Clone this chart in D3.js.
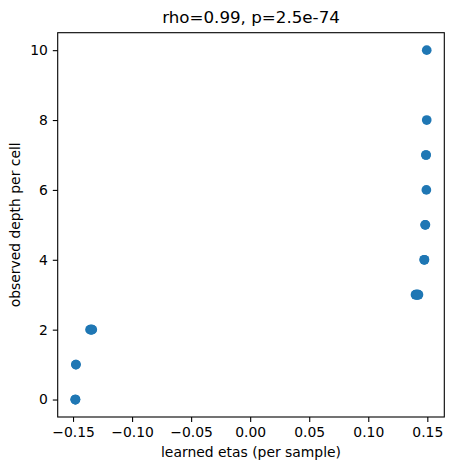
<!DOCTYPE html>
<html>
<head>
<meta charset="utf-8">
<script src="https://cdn.jsdelivr.net/npm/d3@7"></script>
<style>
	body { margin: 0; background: #fff; }
	text { font-family: "DejaVu Sans", sans-serif; fill: #000; }
</style>
</head>
<body>
<svg id="chart" width="454" height="470"></svg>
<script>
'use strict';

// learned etas (per sample)
const etas = [
	-0.1481, -0.1480, -0.1479,
	-0.1476, -0.1475,
	-0.1356, -0.1351, -0.1346, -0.1341, -0.1337,
	0.1400, 0.1405, 0.1410, 0.1415, 0.1420, 0.1425,
	0.1473, 0.1476,
	0.1481, 0.1484,
	0.1492,
	0.1488, 0.1490,
	0.1495,
	0.1495
];
// observed depth per cell
const depths = [
	0, 0, 0,
	1, 1,
	2, 2, 2, 2, 2,
	3, 3, 3, 3, 3, 3,
	4, 4,
	5, 5,
	6,
	7, 7,
	8,
	10
];
const xTicks = [-0.15, -0.10, -0.05, 0.00, 0.05, 0.10, 0.15];
const yTicks = [0, 2, 4, 6, 8, 10];
const title = "rho=0.99, p=2.5e-74";

const W = 454, H = 470;
const margin = {top: 32.7, right: 9.7, bottom: 53, left: 57.7};

function padded(ext) {
	const r = ext[1] - ext[0];
	return [ext[0] - 0.05 * r, ext[1] + 0.05 * r];
}

const svg = d3.select("#chart");

const x = d3.scaleLinear()
	.domain(padded(d3.extent(etas)))
	.range([margin.left, W - margin.right]);
const y = d3.scaleLinear()
	.domain(padded(d3.extent(depths)))
	.range([H - margin.bottom, margin.top]);

const fmtX = d => d.toFixed(2).replace("-", "\u2212");

svg.append("g")
	.attr("transform", `translate(0,${H - margin.bottom})`)
	.call(d3.axisBottom(x).tickValues(xTicks).tickFormat(fmtX).tickSize(4.9).tickPadding(4.9))
	.call(g => g.select(".domain").remove())
	.selectAll("text").attr("font-size", 13.9).attr("font-family", "DejaVu Sans");

svg.append("g")
	.attr("transform", `translate(${margin.left},0)`)
	.call(d3.axisLeft(y).tickValues(yTicks).tickFormat(d3.format("d")).tickSize(4.9).tickPadding(4.9))
	.call(g => g.select(".domain").remove())
	.selectAll("text").attr("font-size", 13.9).attr("font-family", "DejaVu Sans");

svg.selectAll(".tick line").attr("stroke", "#000").attr("stroke-width", 1.1);

// points
svg.append("g")
	.selectAll("circle")
	.data(etas.map((e, i) => ({e: e, d: depths[i]})))
	.enter().append("circle")
	.attr("cx", d => x(d.e))
	.attr("cy", d => y(d.d))
	.attr("r", 4.85)
	.attr("fill", "#1f77b4");

// frame
svg.append("rect")
	.attr("x", margin.left)
	.attr("y", margin.top)
	.attr("width", W - margin.left - margin.right)
	.attr("height", H - margin.top - margin.bottom)
	.attr("fill", "none")
	.attr("stroke", "#000")
	.attr("stroke-width", 1.1);

svg.append("text")
	.attr("x", (margin.left + W - margin.right) / 2)
	.attr("y", 22.7)
	.attr("text-anchor", "middle")
	.attr("font-size", 16.7)
	.text(title);

svg.append("text")
	.attr("x", (margin.left + W - margin.right) / 2)
	.attr("y", 456.5)
	.attr("text-anchor", "middle")
	.attr("font-size", 13.9)
	.text("learned etas (per sample)");

svg.append("text")
	.attr("transform", `translate(19.5,${(margin.top + H - margin.bottom) / 2}) rotate(-90)`)
	.attr("text-anchor", "middle")
	.attr("font-size", 13.9)
	.text("observed depth per cell");
</script>
</body>
</html>
